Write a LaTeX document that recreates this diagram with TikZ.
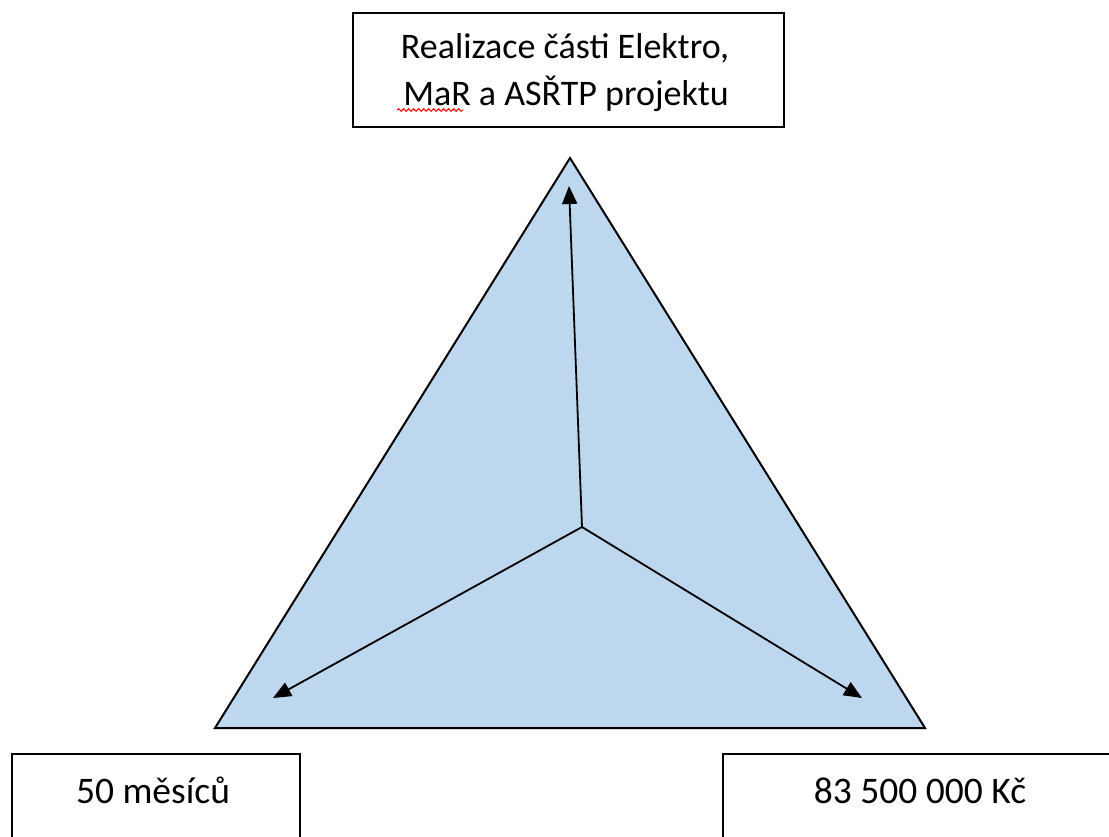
\documentclass[tikz,border=0pt]{standalone}
\usepackage{fontspec}
\setmainfont{Carlito}
\usetikzlibrary{arrows.meta,decorations.pathmorphing}
\definecolor{triblue}{RGB}{189,215,238}
\tikzset{
  labelbox/.style={draw=black, line width=2pt, fill=white},
  boxtext/.style={font=\fontsize{36}{47}\selectfont, inner sep=0pt},
  bottext/.style={font=\fontsize{37.5}{47}\selectfont, inner sep=0pt},
  arrowline/.style={draw=black, line width=1.8pt, -{Triangle[length=18pt,width=15pt]}},
  triangleshape/.style={draw=black, line width=2pt, fill=triblue, line join=miter}
}
\begin{document}
\begin{tikzpicture}[x=1pt,y=-1pt]
\useasboundingbox (0,0) rectangle (1109,836);
\clip (0,0) rectangle (1109,836);
\fill[white] (0,0) rectangle (1109,836);
% triangle
\coordinate (A) at (570,158);
\coordinate (B) at (215,728);
\coordinate (C) at (925,728);
\draw[triangleshape] (A) -- (B) -- (C) -- cycle;
% arrows
\coordinate (ctr) at (582,527);
\coordinate (tTop) at (569,186);
\coordinate (tLeft) at (273,698);
\coordinate (tRight) at (862,698);
\draw[arrowline] (ctr) -- (tTop);
\draw[arrowline] (ctr) -- (tLeft);
\draw[arrowline] (ctr) -- (tRight);
% boxes
\draw[labelbox] (353,13) rectangle (784,127);
\node[boxtext, anchor=base] (scopeA) at (565,58) {Realizace části Elektro,};
\node[boxtext, anchor=base] (scopeB) at (566,105) {MaR a ASŘTP projektu};
\draw[red, line width=1pt, decorate, decoration={snake, amplitude=1.3pt, segment length=5pt}] (397,110) -- (463,110);
\draw[labelbox] (12,754) rectangle (300,860);
\node[bottext, anchor=base] (time) at (153,803) {50 měsíců};
\draw[labelbox] (723,754) rectangle (1120,860);
\node[bottext, anchor=base] (cost) at (920,803) {83 500 000 Kč};
\end{tikzpicture}
\end{document}
